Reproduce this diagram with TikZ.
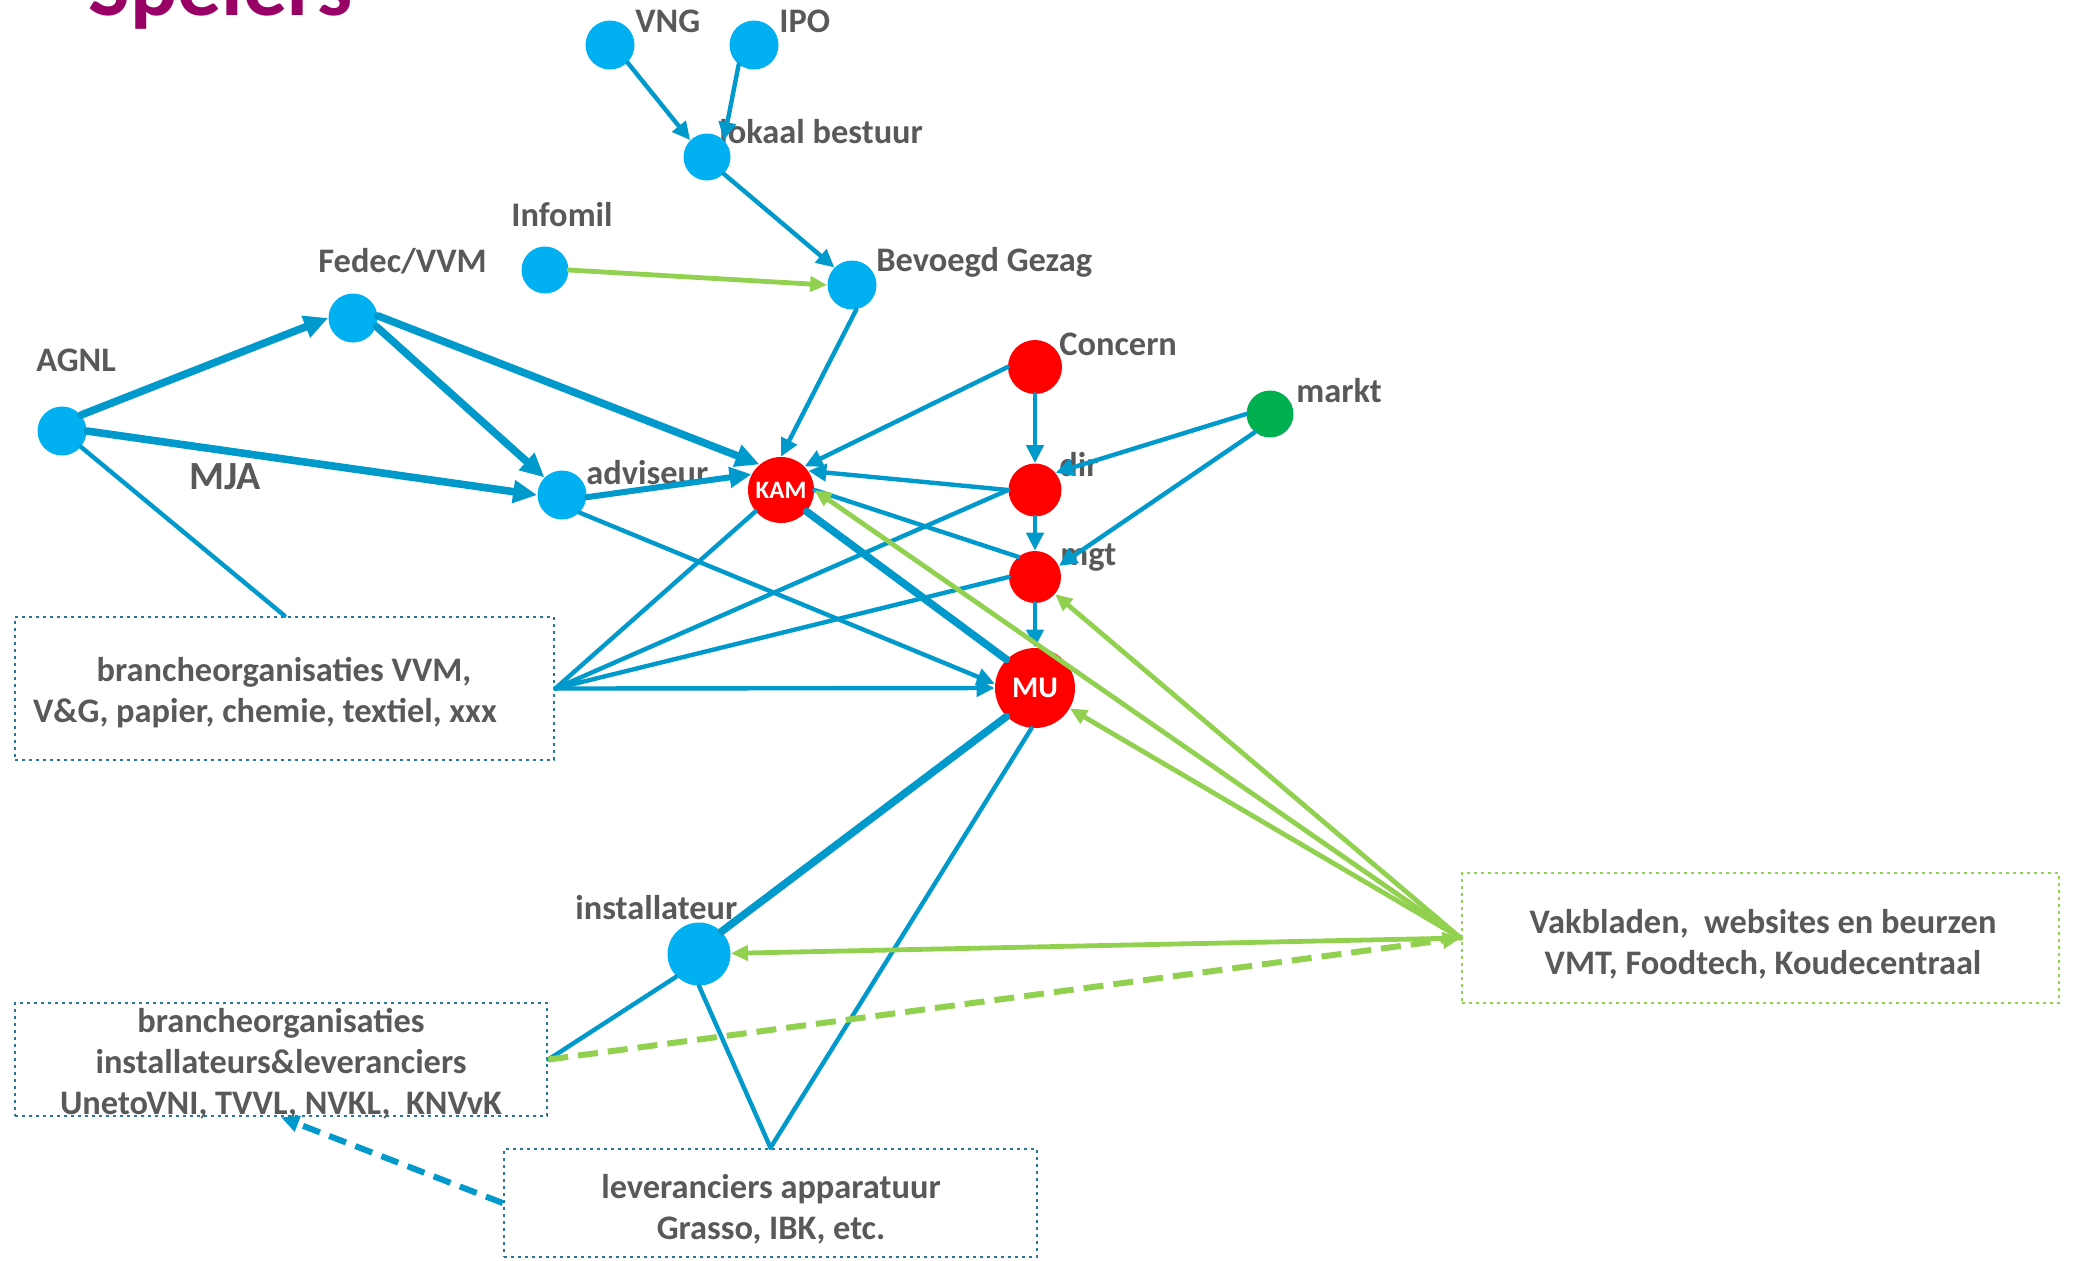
\documentclass[tikz,border=0pt]{standalone}
\usepackage{fontspec}
\setmainfont{Carlito}
\usetikzlibrary{arrows.meta}
\definecolor{nodeblue}{RGB}{0,176,240}
\definecolor{edgeblue}{RGB}{0,153,204}
\definecolor{boxblue}{RGB}{38,122,152}
\definecolor{lgreen}{RGB}{146,208,80}
\definecolor{dgreen}{RGB}{0,176,80}
\definecolor{txtgrey}{RGB}{89,89,89}
\definecolor{titlepurple}{RGB}{153,0,102}
\begin{document}
\begin{tikzpicture}[x=0.5pt,y=-0.5pt,
  dotb/.style={circle,fill=nodeblue,inner sep=0pt,minimum size=24.5pt},
  dotr/.style={circle,fill=red,inner sep=0pt,text=white},
  lbl/.style={anchor=base west,inner sep=0pt,text=txtgrey,font=\fontsize{17.2}{20}\selectfont\bfseries},
  boxtxt/.style={inner sep=0pt,align=center,text=txtgrey,font=\fontsize{17.2}{20.5}\selectfont\bfseries},
  boxb/.style={draw=boxblue,line width=1.3pt,dash pattern=on 1.3pt off 2.2pt,inner sep=0pt},
  boxg/.style={draw=lgreen,line width=1.3pt,dash pattern=on 1.3pt off 2.2pt,inner sep=0pt},
  bn/.style={draw=edgeblue,line width=2.2pt,line cap=round},
  ba/.style={bn,-{Triangle[length=9pt,width=8.5pt]}},
  bt/.style={draw=edgeblue,line width=3.8pt,line cap=round},
  bta/.style={bt,-{Triangle[length=12pt,width=11pt]}},
  bma/.style={draw=edgeblue,line width=3pt,line cap=round,-{Triangle[length=11pt,width=10pt]}},
  bda/.style={draw=edgeblue,line width=3pt,dash pattern=on 9pt off 5pt,-{Triangle[length=9pt,width=8pt]}},
  ga/.style={draw=lgreen,line width=2.4pt,line cap=round,-{Triangle[length=8.5pt,width=7.5pt]}},
  gda/.style={draw=lgreen,line width=3pt,dash pattern=on 10pt off 5pt,-{Triangle[length=9pt,width=8pt]}}
]
\useasboundingbox (0,0) rectangle (2075,1260);
\clip (0,0) rectangle (2075,1260);

% title (cut off at top)
\node[anchor=base west,inner sep=0pt,text=titlepurple,font=\fontsize{44}{50}\selectfont\bfseries] (title) at (88,15) {Spelers};

% labels
\node[lbl] (lVNG) at (635,32) {VNG};
\node[lbl] (lIPO) at (779,32) {IPO};
\node[lbl] (llok) at (719,143) {lokaal bestuur};
\node[lbl] (lInf) at (511,226) {Infomil};
\node[lbl] (lBG) at (876,271) {Bevoegd Gezag};
\node[lbl] (lFed) at (318,272) {Fedec/VVM};
\node[lbl] (lAGNL) at (36,371) {AGNL};
\node[lbl,font=\fontsize{20}{24}\selectfont\bfseries] (lMJA) at (189,489) {MJA};
\node[lbl] (ladv) at (586,484) {adviseur};
\node[lbl] (lCon) at (1059,355) {Concern};
\node[lbl] (lmkt) at (1296,402) {markt};
\node[lbl] (ldir) at (1059,476) {dir};
\node[lbl] (lmgt) at (1060,565) {mgt};
\node[lbl] (linst) at (575,919) {installateur};

% boxes
\node[boxb,minimum width=269.5pt,minimum height=71.5pt] (box1) at (284.5,688.5) {};
\node[boxb,minimum width=266pt,minimum height=56.5pt] (box2) at (281,1059.5) {};
\node[boxb,minimum width=266.5pt,minimum height=54pt] (box3) at (770.5,1203) {};
\node[boxg,minimum width=298.5pt,minimum height=65pt] (box4) at (1760.5,938) {};
\node[boxtxt] (t1) at (284,693) {brancheorganisaties VVM,\\V\&G, papier, chemie, textiel, xxx\hspace*{19pt}};
\node[boxtxt] (t2) at (281,1064) {brancheorganisaties\\installateurs\&leveranciers\\UnetoVNI, TVVL, NVKL,\ \ KNVvK};
\node[boxtxt] (t3) at (771,1209) {leveranciers apparatuur\\Grasso, IBK, etc.};
\node[boxtxt] (t4) at (1763,944) {Vakbladen,\ \ websites en beurzen\\VMT, Foodtech, Koudecentraal};

% nodes
\node[dotb] (VNG) at (610,45) {};
\node[dotb] (IPO) at (754,45) {};
\node[dotb,minimum size=23.5pt] (lok) at (707,157) {};
\node[dotb,minimum size=23.5pt] (Inf) at (545,270) {};
\node[dotb] (BG) at (852,285) {};
\node[dotb] (Fed) at (353,318) {};
\node[dotb] (AGNL) at (62,431) {};
\node[dotb] (adv) at (562,495) {};
\node[dotr,minimum size=33pt,font=\fontsize{12.5}{14}\selectfont\bfseries] (KAM) at (781,490) {KAM};
\node[dotr,minimum size=27pt] (Con) at (1035,367) {};
\node[circle,fill=dgreen,inner sep=0pt,minimum size=23.5pt] (mkt) at (1270,414) {};
\node[dotr,minimum size=26.5pt] (dir) at (1035,490) {};
\node[dotr,minimum size=26pt] (mgt) at (1035,577) {};
\node[dotr,minimum size=40pt,font=\fontsize{15}{17}\selectfont\bfseries] (MU) at (1035,688) {MU};
\node[dotb,minimum size=31.5pt] (inst) at (699,954) {};

% blue edges
\draw[ba] (VNG.-45) -- (lok.135);
\draw[ba] (IPO.232) -- (lok.45);
\draw[ba] (lok.-45) -- (BG.135);
\draw[ba] (BG.-80) -- (KAM.north);
\draw[ba] (Con.west) -- (KAM.45);
\draw[ba] (Con.south) -- (dir.north);
\draw[ba] (mkt.west) -- (dir.40);
\draw[ba] (mkt.230) -- (mgt.25);
\draw[ba] (dir.west) -- (KAM.35);
\draw[ba] (dir.south) -- (mgt.north);
\draw[ba] (mgt.south) -- (MU.north);
\draw[bn] (mgt.130) -- (KAM.east);
\draw[bt] (KAM.-40) -- (MU.135);
\draw[ba] (adv.-45) -- (MU.174);
\draw[bta] (AGNL.40) -- (Fed.west);
\draw[bta] (AGNL.east) -- (adv.west);
\draw[bta] (Fed.-20) -- (adv.135);
\draw[bta] (Fed.5) -- (KAM.130);
\draw[bma] (adv.-5) -- (KAM.152);
\draw[bn] (AGNL.-40) -- (box1.north);
\draw[bn] (box1.east) -- (KAM.220);
\draw[bn] (box1.east) -- (dir.west);
\draw[bn] (box1.east) -- (mgt.west);
\draw[ba] (box1.east) -- (MU.west);
\draw[bt] (MU.225) -- (inst.45);
\draw[bn] (MU.265) -- (box3.north);
\draw[bn] (inst.south) -- (box3.north);
\draw[bn] (inst.225) -- (box2.east);
\draw[bda] (box3.west) -- (box2.south);

% green edges
\draw[ga] (Inf.east) -- (BG.west);
\draw[ga] (box4.west) -- (KAM.east);
\draw[ga] (box4.west) -- (mgt);
\draw[ga] (box4.west) -- (MU);
\draw[ga] (box4.west) -- (inst);
\draw[gda] (box2.east) -- (box4.west);
\end{tikzpicture}
\end{document}
